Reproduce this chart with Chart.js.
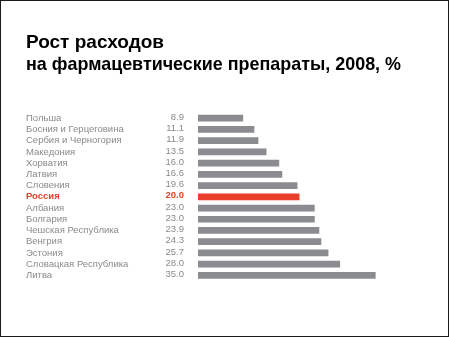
<!DOCTYPE html>
<html>
<head>
<meta charset="utf-8">
<script src="https://cdn.jsdelivr.net/npm/chart.js@4"></script>
<style>
html, body { margin: 0; padding: 0; background: #fff; }
#wrap { width: 449px; height: 337px; box-sizing: border-box; border: 1px solid #1a1a1a; }
canvas { display: block; }
</style>
</head>
<body>
<div id="wrap"><canvas id="chart" width="447" height="335"></canvas></div>
<script>
var countries = ['Польша', 'Босния и Герцеговина', 'Сербия и Черногория', 'Македония', 'Хорватия', 'Латвия', 'Словения', 'Россия',
   'Албания', 'Болгария', 'Чешская Республика', 'Венгрия', 'Эстония', 'Словацкая Республика', 'Литва'];
var growth = [8.9, 11.1, 11.9, 13.5, 16.0, 16.6, 19.6, 20.0, 23.0, 23.0, 23.9, 24.3, 25.7, 28.0, 35.0];
var highlight = 'Россия';

var gray = '#8b8c90';
var red = '#e8402a';
var textGray = '#8a8a8a';

function isHi(i) { return countries[i] === highlight; }

// numbers printed between the names and the bars
var valueLabels = {
   id: 'valueLabels',
   afterDatasetsDraw: function(chart) {
      var ctx = chart.ctx;
      var y = chart.scales.y;
      ctx.save();
      ctx.textAlign = 'right';
      ctx.textBaseline = 'middle';
      growth.forEach(function(v, i) {
         ctx.font = (isHi(i) ? 'bold ' : '') + '9.5px "Liberation Sans", Arial, sans-serif';
         ctx.fillStyle = isHi(i) ? red : textGray;
         ctx.fillText(v.toFixed(1), 183, y.getPixelForValue(i) - 1);
      });
      ctx.restore();
   }
};

var config = {
   type: 'bar',
   data: {
      labels: countries,
      datasets: [{
         data: growth,
         backgroundColor: growth.map(function(v, i) { return isHi(i) ? red : gray; }),
         barPercentage: 0.6,
         categoryPercentage: 1
      }]
   },
   options: {
      indexAxis: 'y',
      responsive: false,
      animation: false,
      layout: { padding: { left: 25, right: 47, top: 0, bottom: 55 } },
      plugins: {
         legend: { display: false },
         tooltip: { enabled: false },
         title: {
            display: true,
            text: ['Рост расходов', 'на фармацевтические препараты, 2008, %'],
            align: 'start',
            color: '#000',
            font: { family: '"Liberation Sans", Arial, sans-serif', size: 19, weight: 'bold', lineHeight: 1.2 },
            padding: { top: 30, bottom: 36 }
         }
      },
      scales: {
         x: { display: false, min: 0, max: 40 },
         y: {
            grid: { display: false },
            border: { display: false },
            afterFit: function(s) { s.width = 172; },
            ticks: {
               crossAlign: 'far',
               padding: 0,
               autoSkip: false,
               color: function(c) { return isHi(c.index) ? red : textGray; },
               font: function(c) {
                  return { family: '"Liberation Sans", Arial, sans-serif', size: 9.5, weight: isHi(c.index) ? 'bold' : 'normal' };
               }
            }
         }
      }
   },
   plugins: [valueLabels]
};

var chart = new Chart(document.getElementById('chart').getContext('2d'), config);
</script>
</body>
</html>
